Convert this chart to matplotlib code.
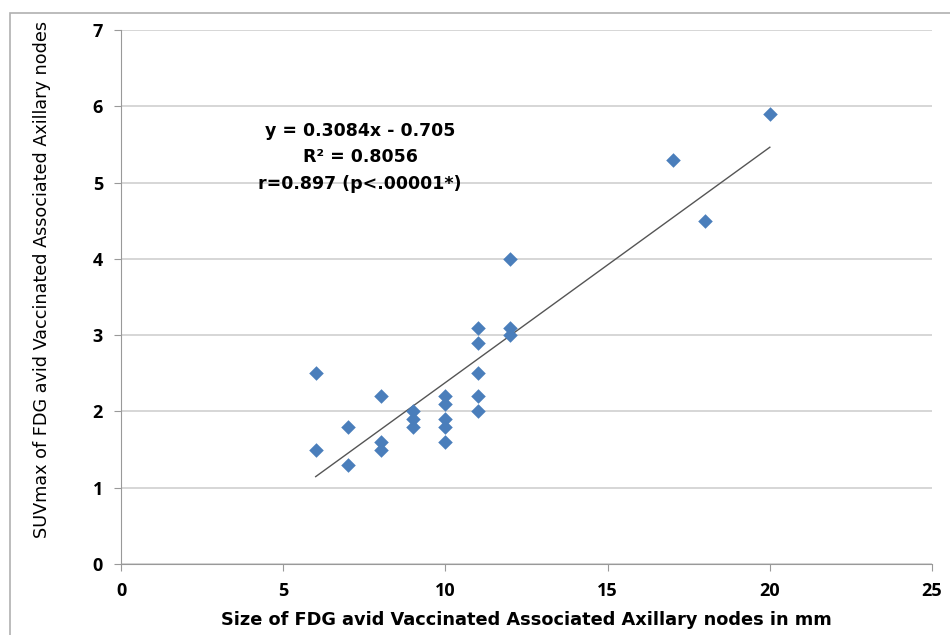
import matplotlib
matplotlib.use("Agg")
import matplotlib.pyplot as plt
from matplotlib.patches import Rectangle

# node size (mm) vs SUVmax
size_mm = [6, 6, 7, 7, 8, 8, 8, 9, 9, 9, 10, 10, 10, 10, 10,
           11, 11, 11, 11, 11, 12, 12, 12, 17, 18, 20]
suv_max = [2.5, 1.5, 1.8, 1.3, 2.2, 1.6, 1.5, 2.0, 1.9, 1.8, 2.2, 2.1, 1.9, 1.8, 1.6,
           3.1, 2.9, 2.5, 2.2, 2.0, 4.0, 3.1, 3.0, 5.3, 4.5, 5.9]

slope, intercept = 0.3084, -0.705
fit_x = [min(size_mm), max(size_mm)]
fit_y = [slope * v + intercept for v in fit_x]

stats_text = "y = 0.3084x - 0.705\nR² = 0.8056\nr=0.897 (p<.00001*)"

plt.rcParams['font.family'] = ['DejaVu Sans']

fig = plt.figure(figsize=(9.5, 6.35), dpi=100)
ax = fig.add_axes([0.1274, 0.1118, 0.8537, 0.841])

# outer chart frame
fig.patches.append(Rectangle((10 / 950, -0.1), 1.2, 1 - 13 / 635 + 0.1,
                             transform=fig.transFigure, fill=False,
                             edgecolor="#b0b0b0", linewidth=1.2))

ax.scatter(size_mm, suv_max, marker="D", s=55, color="#4a7ebb", zorder=3, linewidths=0)
ax.plot(fit_x, fit_y, color="#555555", linewidth=1, zorder=2)

ax.set_xlim(0, 25)
ax.set_ylim(0, 7)
ax.set_xticks(range(0, 26, 5))
ax.set_yticks(range(0, 8))
ax.grid(axis="y", color="#d0d0d0", linewidth=1.2)
ax.set_axisbelow(True)
for s in ["top", "right"]:
    ax.spines[s].set_visible(False)
for s in ["left", "bottom"]:
    ax.spines[s].set_color("#999999")
ax.tick_params(axis="both", direction="out", length=5, color="#999999", labelsize=13, pad=8)
for lbl in ax.get_xticklabels() + ax.get_yticklabels():
    lbl.set_fontweight("bold")
    lbl.set_family(["Open Sans", "DejaVu Sans"])

ax.set_xlabel("Size of FDG avid Vaccinated Associated Axillary nodes in mm",
              fontsize=12.8, fontweight="bold", labelpad=8)
ax.set_ylabel("SUVmax of FDG avid Vaccinated Associated Axillary nodes", fontsize=12.7)
ax.yaxis.set_label_coords(-0.086, 0.532)

ax.text(7.37, 5.33, stats_text, ha="center", va="center", fontsize=12.5,
        fontweight="bold", linespacing=1.6)

fig.savefig("out.png", dpi=100)
